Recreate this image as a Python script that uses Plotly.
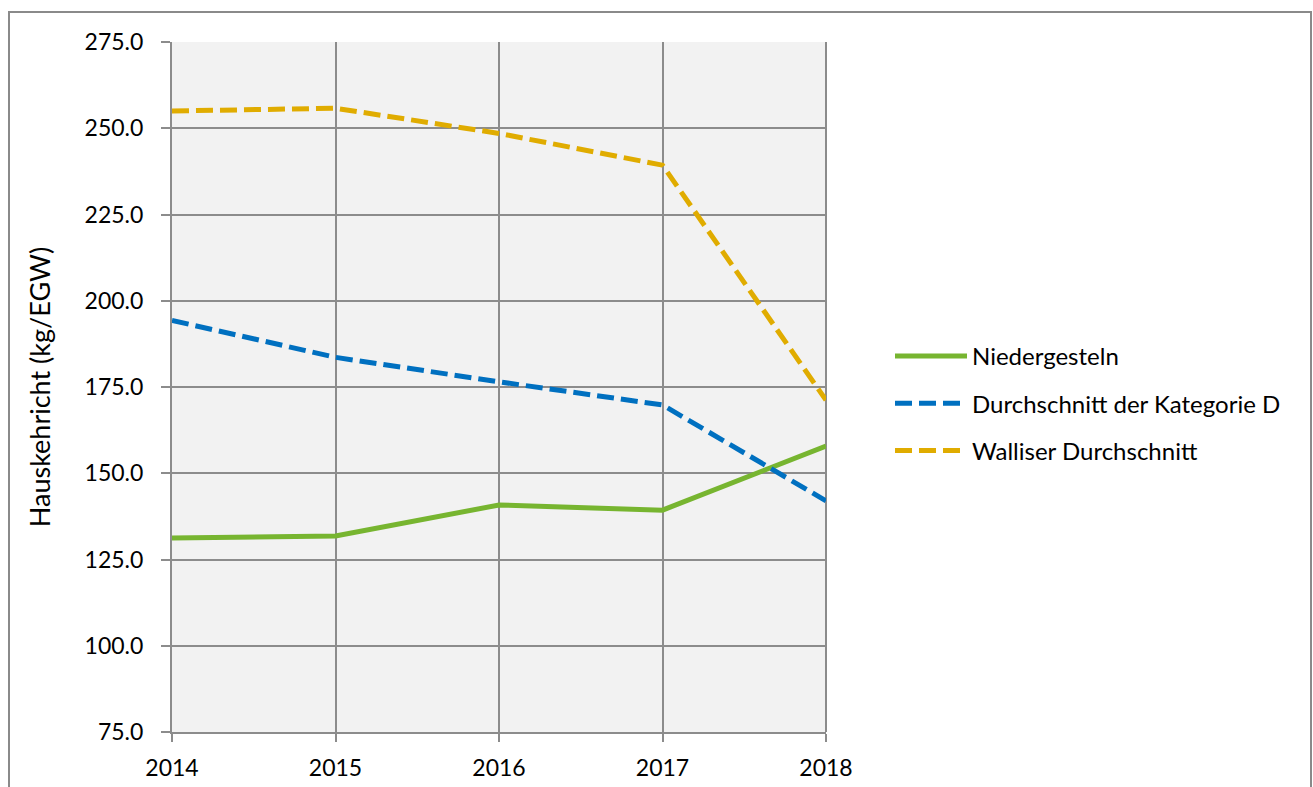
import plotly.graph_objects as go

years = [2014, 2015, 2016, 2017, 2018]
niedergesteln = [131.2, 131.8, 140.8, 139.3, 157.9]
kategorie_d = [194.3, 183.6, 176.5, 169.8, 142.0]
walliser = [255.0, 255.8, 248.5, 239.3, 171.2]
y_ticks = [75, 100, 125, 150, 175, 200, 225, 250, 275]

FONT = "Lato"
DASH = "17px,7px"

fig = go.Figure()
fig.add_trace(go.Scatter(x=years, y=niedergesteln, mode="lines", name="Niedergesteln",
                         legendgroup="a", line=dict(color="#77b530", width=5)))
fig.add_trace(go.Scatter(x=years, y=kategorie_d, mode="lines", name="Durchschnitt der Kategorie D",
                         legendgroup="b", line=dict(color="#0070c0", width=5, dash=DASH)))
fig.add_trace(go.Scatter(x=years, y=walliser, mode="lines", name="Walliser Durchschnitt",
                         legendgroup="c", line=dict(color="#e0ac00", width=5, dash=DASH)))

W, H = 1313, 787
L, R, T, B = 172, W - 826, 42, H - 732
pw, ph = W - L - R, H - T - B

def px_x(p):
    return (p - L) / pw

def px_y(p):
    return (H - B - p) / ph

fig.update_layout(
    width=W, height=H,
    margin=dict(l=L, r=R, t=T, b=B, pad=0, autoexpand=False),
    paper_bgcolor="white",
    plot_bgcolor="#f2f2f2",
    font=dict(family=FONT, size=24, color="black"),
    showlegend=True,
    legend=dict(x=px_x(890), y=px_y(334), xanchor="left", yanchor="top",
                font=dict(family=FONT, size=24, color="black"),
                itemwidth=72, tracegroupgap=13, traceorder="grouped",
                bgcolor="rgba(0,0,0,0)"),
    xaxis=dict(range=[2014, 2018], tickvals=years, ticktext=[str(y) for y in years],
               showgrid=True, gridcolor="#8c8c8c", gridwidth=2,
               showline=True, linecolor="#8c8c8c", linewidth=2,
               ticks="outside", ticklen=8, tickcolor="#8c8c8c", tickwidth=2,
               ticklabelstandoff=6, automargin=False,
               zeroline=False, mirror=False,
               tickfont=dict(family=FONT, size=23)),
    yaxis=dict(range=[75, 275], tickvals=y_ticks, ticktext=[f"{v:.1f}" for v in y_ticks],
               showgrid=True, gridcolor="#8c8c8c", gridwidth=2,
               showline=True, linecolor="#8c8c8c", linewidth=2,
               ticks="outside", ticklen=9, tickcolor="#8c8c8c", tickwidth=2,
               ticklabelstandoff=13, automargin=False,
               zeroline=False,
               title=dict(text="Hauskehricht (kg/EGW)", font=dict(family=FONT, size=27), standoff=26),
               tickfont=dict(family=FONT, size=23)),
)

# outer chart frame
fig.add_shape(type="rect", xref="paper", yref="paper",
              x0=px_x(9), x1=px_x(1311), y0=px_y(800), y1=px_y(12),
              line=dict(color="#8a8a8a", width=2), fillcolor="rgba(0,0,0,0)", layer="below")
# right border of plot area
fig.add_shape(type="line", xref="paper", yref="paper", x0=1, x1=1, y0=0, y1=1,
              line=dict(color="#8c8c8c", width=2), layer="below")

fig.write_html("out.html", config={"displayModeBar": False},
               post_script="document.body.style.margin='0';document.body.style.overflow='hidden';")
